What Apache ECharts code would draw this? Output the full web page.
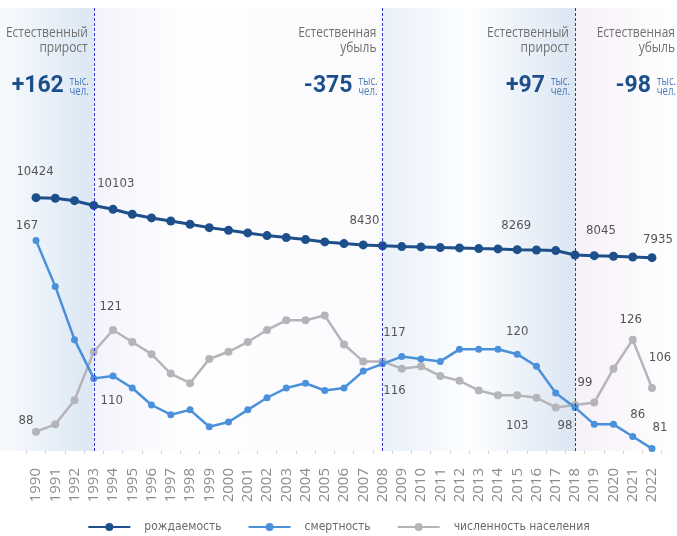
<!DOCTYPE html>
<html>
<head>
<meta charset="utf-8">
<script src="https://cdn.jsdelivr.net/npm/echarts@6/dist/echarts.min.js"></script>
<style>
  html, body { margin: 0; padding: 0; background: #fff; }
  #main { width: 677px; height: 536px; }
</style>
</head>
<body>
<div id="main"></div>
<script>
// years on the x axis
const years = ['1990','1991','1992','1993','1994','1995','1996','1997','1998','1999','2000',
  '2001','2002','2003','2004','2005','2006','2007','2008','2009','2010','2011','2012',
  '2013','2014','2015','2016','2017','2018','2019','2020','2021','2022'];

// thousand people
const births = [10424, 10400, 10300, 10103, 9944, 9737, 9584, 9459, 9323, 9182, 9074,
  8963, 8851, 8768, 8685, 8590, 8520, 8466, 8430, 8395, 8383, 8354, 8340,
  8313, 8300, 8269, 8255, 8230, 8045, 8020, 7995, 7965, 7935];
const deaths = [167, 148, 126, 110, 111, 106, 99, 95, 97, 90, 92,
  97, 102, 106, 108, 105, 106, 113, 116, 119, 118, 117, 122,
  122, 122, 120, 115, 104, 98, 91, 91, 86, 81];
const population = [88, 91, 101, 121, 130, 125, 120, 112, 108, 118, 121,
  125, 130, 134, 134, 136, 124, 117, 117, 114, 115, 111, 109,
  105, 103, 103, 102, 98, 99, 100, 114, 126, 106];

const seriesNames = ['рождаемость', 'смертность', 'численность населения'];

// period boundaries and their notes
const boundaries = ['1993', '2008', '2018'];
const noteTitles = ['Естественный\nприрост', 'Естественная\nубыль', 'Естественный\nприрост', 'Естественная\nубыль'];
const noteValues = ['+162', '-375', '+97', '-98'];
const noteUnit = 'тыс.\nчел.';

// label placement (offset from the point centre), by year
const birthLabels = { '1990': [-1, -26], '1993': [22, -22], '2008': [-18, -25], '2015': [-1, -24], '2018': [26, -24], '2022': [6, -18] };
const deathLabels = { '1990': [-9, -15], '1993': [18, 22], '2008': [12, 27], '2015': [0, -23], '2018': [-10, 18], '2021': [5, -22], '2022': [8, -21] };
const popLabels = { '1990': [-10, -11], '1993': [17, -45], '2008': [12, -29], '2015': [0, 30], '2018': [10, -22], '2021': [-2, -20], '2022': [8, -30] };

const COND = "'DejaVu Sans Condensed', 'Open Sans', sans-serif";
const W = 677;
const GRID_L = 26.4, GRID_R = 15.4, GRID_T = 8, GRID_B = 85;
const band = (W - GRID_L - GRID_R) / years.length;
const hMin = -0.5 - GRID_L / band;
const hMax = years.length - 0.5 + GRID_R / band;

function withLabels(values, labels) {
  return values.map((v, i) => {
    const off = labels[years[i]];
    if (!off) return v;
    return {
      value: v,
      label: {
        show: true, position: 'inside', offset: off,
        color: '#555', fontFamily: COND, fontSize: 13,
        textBorderWidth: 0
      }
    };
  });
}

const grad = (stops) => new echarts.graphic.LinearGradient(0, 0, 1, 0,
  stops.map(s => ({ offset: s[0], color: s[1] })));

const bIdx = boundaries.map(b => years.indexOf(b));
const areaEdges = [hMin].concat(bIdx, [hMax]);
const areaColors = [
  grad([[0, '#f8fafd'], [1, '#dbe7f4']]),
  grad([[0, '#f3f3fc'], [0.3, '#fefeff'], [1, '#fbfbfe']]),
  grad([[0, '#e9f0f9'], [0.45, '#fdfeff'], [1, '#dbe6f3']]),
  grad([[0, '#f6f0f8'], [1, '#ffffff']])
];

// right edge of each note: the period's end line, the last one the page edge
const anchors = bIdx.map(i => GRID_L + band * (i + 0.5)).concat([W + 4]);

var notes = [];
anchors.forEach((ax, i) => {
  notes.push(
    { type: 'text', z: 100, silent: true, x: ax - 6, y: 25, scaleX: 0.8,
      style: { text: noteTitles[i], align: 'right', verticalAlign: 'top',
        fontFamily: "'Open Sans', sans-serif", fontSize: 15, lineHeight: 15, fill: '#707070' } },
    { type: 'text', z: 100, silent: true, x: ax - 5, y: 77, scaleX: 0.8,
      style: { text: noteUnit, align: 'right', verticalAlign: 'top',
        fontFamily: "'Open Sans', sans-serif", fontSize: 12, lineHeight: 10, fill: '#4a7bb7' } },
    { type: 'text', z: 100, silent: true, x: ax - 30, y: 86,
      style: { text: noteValues[i], align: 'right', verticalAlign: 'middle',
        fontFamily: 'Roboto, sans-serif', fontWeight: 'bold', fontSize: 23, fill: '#1d4f8b' } }
  );
});

var chart = echarts.init(document.getElementById('main'));
var option = {
  animation: false,
  backgroundColor: '#fff',
  grid: [
    { left: GRID_L, right: GRID_R, top: GRID_T, bottom: GRID_B, outerBoundsMode: 'none' },
    { left: 0, right: 0, top: GRID_T, bottom: GRID_B, outerBoundsMode: 'none' }
  ],
  legend: {
    data: seriesNames,
    left: 'center',
    top: 516,
    itemWidth: 42,
    itemHeight: 10,
    itemGap: 26,
    textStyle: { fontFamily: COND, fontSize: 12, color: '#6a6a6a', padding: [0, 0, 0, 9] }
  },
  xAxis: [
    {
      type: 'category', gridIndex: 0, data: years, boundaryGap: true,
      axisLine: { lineStyle: { color: '#dcdcdc' } },
      axisTick: { show: true, length: 5, lineStyle: { color: '#d0d0d0' } },
      axisLabel: { rotate: 90, interval: 0, margin: 17, fontFamily: "'Open Sans', sans-serif", fontSize: 15, color: '#8c8c8c' }
    },
    { type: 'value', gridIndex: 1, min: hMin, max: hMax, show: false }
  ],
  yAxis: [
    { type: 'value', gridIndex: 0, min: -84, max: 18293, show: false },
    { type: 'value', gridIndex: 0, min: 80, max: 263, show: false },
    { type: 'value', gridIndex: 1, min: 0, max: 1, show: false }
  ],
  graphic: { elements: notes },
  series: [
    {
      type: 'line', xAxisIndex: 1, yAxisIndex: 2, data: [], silent: true, z: 0,
      markArea: {
        silent: true,
        data: areaColors.map((c, i) => [
          { xAxis: areaEdges[i], itemStyle: { color: c } },
          { xAxis: areaEdges[i + 1] }
        ])
      }
    },
    {
      name: seriesNames[0], type: 'line', yAxisIndex: 0, z: 3,
      data: withLabels(births, birthLabels),
      symbol: 'circle', symbolSize: 9,
      itemStyle: { color: '#1d4f8b' },
      lineStyle: { width: 3, color: '#1d4f8b' },
      markLine: {
        silent: true, symbol: 'none', label: { show: false },
        lineStyle: { color: '#2f2fcc', type: [3, 2], width: 1 },
        data: boundaries.map(b => ({ xAxis: b }))
      }
    },
    {
      name: seriesNames[1], type: 'line', yAxisIndex: 1, z: 4,
      data: withLabels(deaths, deathLabels),
      symbol: 'circle', symbolSize: 7,
      itemStyle: { color: '#4a90da' },
      lineStyle: { width: 2.5, color: '#4a90da' }
    },
    {
      name: seriesNames[2], type: 'line', yAxisIndex: 1, z: 3,
      data: withLabels(population, popLabels),
      symbol: 'circle', symbolSize: 8,
      itemStyle: { color: '#b5b5b9' },
      lineStyle: { width: 2.5, color: '#b5b5b9' }
    }
  ]
};
chart.setOption(option);
</script>
</body>
</html>
